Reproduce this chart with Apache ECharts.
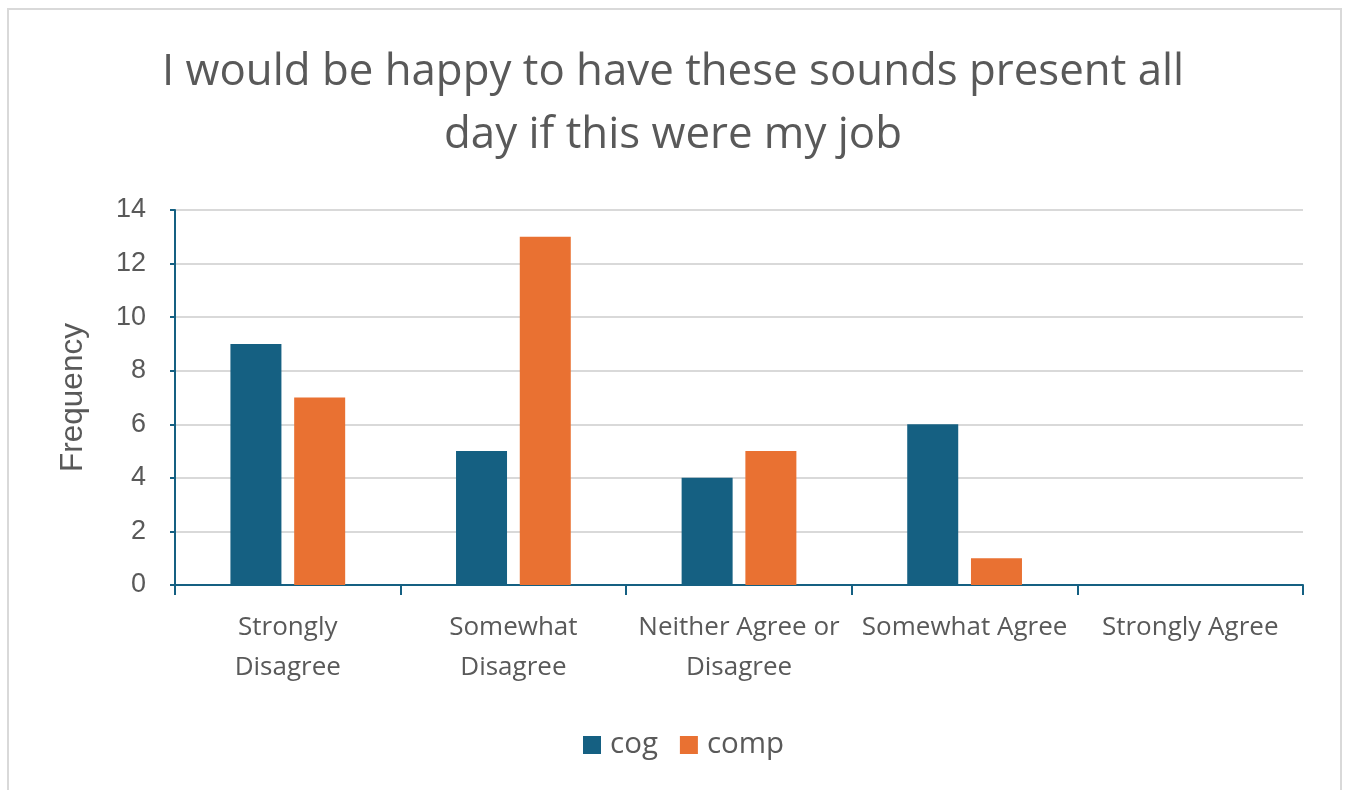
<!DOCTYPE html>
<html><head><meta charset="utf-8">
<script src="https://cdn.jsdelivr.net/npm/echarts@6/dist/echarts.min.js"></script>
<style>
html,body{margin:0;padding:0;background:#fff;}
#frame{position:absolute;left:7px;top:8px;width:1335px;height:800px;border:2px solid #d9d9d9;box-sizing:border-box;}
#c{position:absolute;left:0;top:0;width:1346px;height:790px;}
</style></head>
<body>
<div id="frame"></div>
<div id="c"></div>
<script>
const titleText = "I would be happy to have these sounds present all\nday if this were my job";
const categories = ["Strongly\nDisagree", "Somewhat\nDisagree", "Neither Agree or\nDisagree", "Somewhat Agree", "Strongly Agree"];
const cogValues = [9, 5, 4, 6, 0];
const compValues = [7, 13, 5, 1, 0];
const yTicks = [0, 2, 4, 6, 8, 10, 12, 14];
const seriesNames = ["cog", "comp"];
const colors = ["#156082", "#E97132"];

const chart = echarts.init(document.getElementById('c'), null, {renderer: 'canvas'});
const font = "'Open Sans', 'Noto Sans', sans-serif";
chart.setOption({
  animation: false,
  title: {
    text: titleText, left: 'center', top: 36,
    textStyle: {fontFamily: font, fontSize: 43.8, fontWeight: 'normal', color: '#595959', lineHeight: 63}
  },
  legend: {
    data: seriesNames, bottom: 25, left: 578,
    itemWidth: 18, itemHeight: 18, itemGap: 22,
    icon: 'rect',
    textStyle: {fontFamily: font, fontSize: 29.5, color: '#595959', padding: [0, 0, 0, 4]}
  },
  grid: {left: 175, right: 43, top: 210, bottom: 205},
  xAxis: {
    type: 'category', data: categories,
    axisLine: {lineStyle: {color: '#156082', width: 2}},
    axisTick: {show: true, alignWithLabel: false, length: 10, lineStyle: {color: '#156082', width: 2}},
    axisLabel: {fontFamily: font, fontSize: 26, color: '#595959', lineHeight: 40, margin: 23, interval: 0}
  },
  yAxis: {
    type: 'value', min: yTicks[0], max: yTicks[yTicks.length-1], interval: 2,
    name: 'Frequency', nameLocation: 'middle', nameGap: 86, nameRotate: 90,
    nameTextStyle: {fontFamily: "'Liberation Sans', Arial, sans-serif", fontSize: 31.5, color: '#595959'},
    axisLine: {show: true, lineStyle: {color: '#156082', width: 2}},
    axisTick: {show: true, length: 5, lineStyle: {color: '#156082', width: 2}},
    axisLabel: {fontFamily: "'Liberation Sans', Arial, sans-serif", fontSize: 27, color: '#595959', margin: 29},
    splitLine: {lineStyle: {color: '#d9d9d9', width: 2}}
  },
  series: [
    {name: seriesNames[0], type: 'bar', data: cogValues, itemStyle: {color: colors[0]}, barWidth: 51, barGap: '25%'},
    {name: seriesNames[1], type: 'bar', data: compValues, itemStyle: {color: colors[1]}, barWidth: 51, barGap: '25%'}
  ]
});
</script>
</body></html>
